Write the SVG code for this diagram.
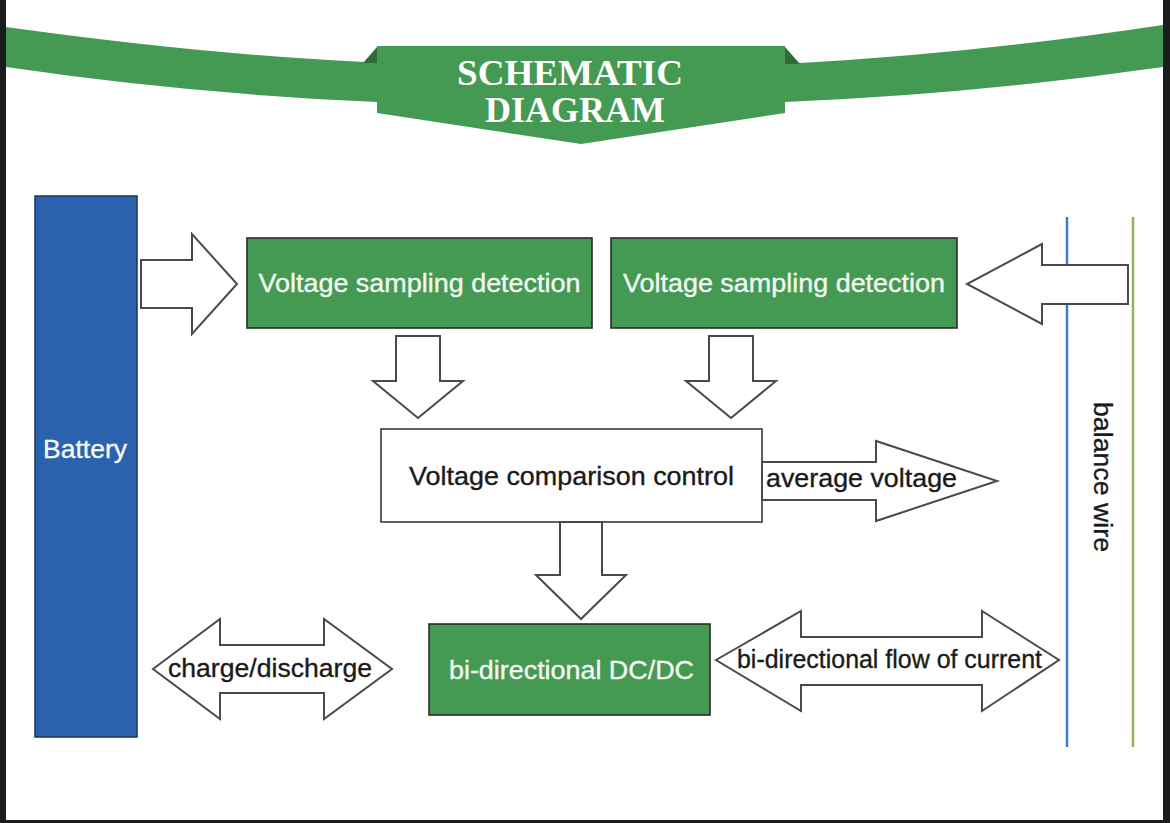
<svg xmlns="http://www.w3.org/2000/svg" width="1170" height="823" viewBox="0 0 1170 823">
  <style>
    .frame { fill: #1c1c1e; }
    .ribbon { fill: #459a53; }
    .fold { fill: #2d6b37; }
    .title { font-family: "Liberation Serif", "Times New Roman", serif; font-weight: bold; font-size: 35px; fill: #ffffff; text-anchor: middle; }
    .gbox { fill: #459a53; stroke: #2b2b2b; stroke-width: 1.6; }
    .wbox { fill: #ffffff; stroke: #3a3a3a; stroke-width: 1.6; }
    .bat { fill: #2b62ad; stroke: #1d3557; stroke-width: 1.5; }
    .arrow { fill: #ffffff; stroke: #4a4a4a; stroke-width: 2; stroke-linejoin: miter; }
    .wt { font-family: "Liberation Sans", Arial, sans-serif; font-size: 26px; fill: #f4f8f4; stroke: #f4f8f4; stroke-width: 0.35; text-anchor: middle; }
    .bt { font-family: "Liberation Sans", Arial, sans-serif; font-size: 26px; fill: #1a1a1a; stroke: #1a1a1a; stroke-width: 0.35; }
    .wire-b { stroke: #3b7bd0; stroke-width: 2.5; }
    .wire-g { stroke: #93b255; stroke-width: 2.5; }
  </style>

  <rect x="0" y="0" width="1170" height="823" fill="#ffffff"/>

  <!-- header banner -->
  <g id="banner">
    <path class="ribbon" d="M6,27 Q200,54 364,62 L377,62 L377,102 Q190,94 6,67 Z"/>
    <path class="ribbon" d="M1163,25 Q970,54 800,63 L785,63 L785,102 Q975,94 1163,67 Z"/>
    <polygon class="fold" points="363,63 377,47 377,63"/>
    <polygon class="fold" points="785,47 800,64 785,64"/>
    <polygon class="ribbon" points="377,46 785,46 785,113 581,144 377,113"/>
    <text class="title" x="570" y="85" textLength="226" lengthAdjust="spacingAndGlyphs">SCHEMATIC</text>
    <text class="title" x="575" y="122" textLength="180" lengthAdjust="spacingAndGlyphs">DIAGRAM</text>
  </g>

  <!-- balance wires -->
  <g id="balance-wire">
    <line class="wire-b" x1="1067" y1="217" x2="1067" y2="747"/>
    <line class="wire-g" x1="1133" y1="217" x2="1133" y2="747"/>
    <text class="bt" transform="translate(1094,477) rotate(90)" text-anchor="middle" textLength="150" lengthAdjust="spacingAndGlyphs">balance wire</text>
  </g>

  <g id="battery">
    <rect class="bat" x="35" y="196" width="102" height="541"/>
    <text class="wt" x="85" y="458" textLength="84" lengthAdjust="spacingAndGlyphs">Battery</text>
  </g>

  <g id="sampling-1">
    <rect class="gbox" x="247" y="238" width="345" height="90"/>
    <text class="wt" x="419.5" y="292" textLength="322" lengthAdjust="spacingAndGlyphs">Voltage sampling detection</text>
  </g>

  <g id="sampling-2">
    <rect class="gbox" x="611" y="238" width="346" height="90"/>
    <text class="wt" x="784" y="292" textLength="322" lengthAdjust="spacingAndGlyphs">Voltage sampling detection</text>
  </g>

  <g id="comparison">
    <rect class="wbox" x="381" y="429" width="381" height="93"/>
    <text class="bt" x="571.5" y="485" text-anchor="middle" textLength="325" lengthAdjust="spacingAndGlyphs">Voltage comparison control</text>
  </g>

  <g id="dcdc">
    <rect class="gbox" x="429" y="624" width="281" height="91"/>
    <text class="wt" x="571.5" y="679" textLength="245" lengthAdjust="spacingAndGlyphs">bi-directional DC/DC</text>
  </g>

  <!-- connectors (block arrows) -->
  <g id="connectors">
    <polygon class="arrow" points="141,260 192,260 192,234 237,284 192,334 192,308 141,308"/>
    <polygon class="arrow" points="1128,265 1042,265 1042,244 967,284 1042,324 1042,304 1128,304"/>
    <polygon class="arrow" points="396,336 440,336 440,381 463,381 418,418 373,381 396,381"/>
    <polygon class="arrow" points="709,336 753,336 753,381 776,381 731,418 686,381 709,381"/>
    <polygon class="arrow" points="560,522 602,522 602,575 626,575 581,619 536,575 560,575"/>
    <polygon class="arrow" points="762,462 876,462 876,441 997,481 876,521 876,500 762,500"/>
    <text class="bt" x="766" y="487" textLength="191" lengthAdjust="spacingAndGlyphs">average voltage</text>
    <polygon class="arrow" points="153,669 220,619 220,645 324,645 324,619 392,669 324,719 324,693 220,693 220,719"/>
    <text class="bt" x="168" y="677" textLength="204" lengthAdjust="spacingAndGlyphs">charge/discharge</text>
    <polygon class="arrow" points="716,660 801,611 801,637 982,637 982,611 1059,660 982,711 982,685 801,685 801,711"/>
    <text class="bt" x="737" y="668" textLength="305" lengthAdjust="spacingAndGlyphs">bi-directional flow of current</text>
  </g>

  <!-- dark frame -->
  <g id="frame">
    <rect class="frame" x="0" y="0" width="6" height="823"/>
    <rect class="frame" x="1163" y="0" width="7" height="823"/>
    <rect class="frame" x="0" y="820" width="1170" height="3"/>
  </g>
</svg>
